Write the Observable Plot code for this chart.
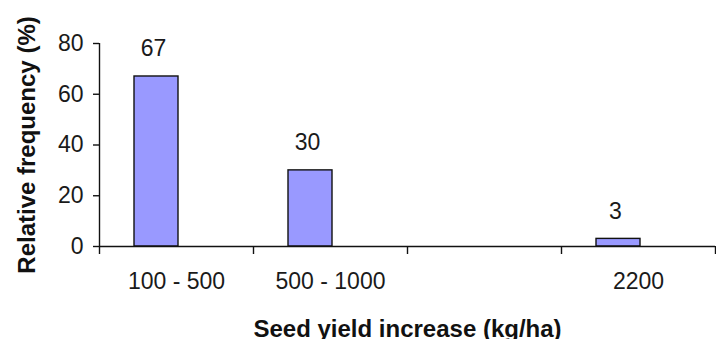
<!DOCTYPE html>
<html>
<head>
<meta charset="utf-8">
<script src="https://cdn.jsdelivr.net/npm/d3@7"></script>
<script src="https://cdn.jsdelivr.net/npm/@observablehq/plot@0.6"></script>
<style>
  html, body { margin: 0; padding: 0; background: #ffffff; }
  #chart { width: 716px; height: 339px; overflow: hidden; }
</style>
</head>
<body>
<div id="chart"></div>
<script>
const categories = ["100 - 500", "500 - 1000", "", "2200"];
const frequency = [67, 30, null, 3];
const yTicks = [0, 20, 40, 60, 80];
const xTitle = "Seed yield increase (kg/ha)";
const yTitle = "Relative frequency (%)";

const data = categories
  .map((c, i) => ({ category: c, i, value: frequency[i] }))
  .filter(d => d.value != null);

const boundaries = categories.map((c, i) => i).concat([categories.length]);
const centers = categories.map((c, i) => i + 0.5);

const font = "'Liberation Sans', Arial, Helvetica, sans-serif";

const chart = Plot.plot({
  width: 716,
  height: 339,
  marginLeft: 99,
  marginRight: 1,
  marginTop: 43,
  marginBottom: 93,
  x: { domain: [0, categories.length], axis: null, label: null },
  y: { domain: [0, 80], axis: null, label: null },
  style: { fontFamily: font, fontSize: "23px", color: "#1a1a1a", background: "white", overflow: "hidden" },
  marks: [
    Plot.rectY(data, {
      x1: "i",
      x2: d => d.i + 1,
      y: "value",
      insetLeft: 35,
      insetRight: 75,
      fill: "#9999ff",
      stroke: "#111",
      strokeWidth: 1.4
    }),
    Plot.ruleY([0], { stroke: "#111", strokeWidth: 1.4 }),
    Plot.ruleX([0], { y1: 0, y2: 80, stroke: "#111", strokeWidth: 1.4 }),
    Plot.axisY({
      ticks: yTicks,
      tickSize: 6,
      tickPadding: 10,
      label: null,
      fontSize: 23,
      stroke: "#111",
      strokeWidth: 1.4
    }),
    Plot.axisX({
      ticks: boundaries,
      tickSize: 8,
      tickFormat: () => "",
      label: null,
      stroke: "#111",
      strokeWidth: 1.4
    }),
    Plot.axisX({
      ticks: centers,
      tickSize: 0,
      tickPadding: 26,
      tickFormat: d => categories[Math.floor(d)],
      label: null,
      fontSize: 23
    }),
    Plot.text(data, {
      x: d => d.i + 0.5,
      y: "value",
      text: d => String(d.value),
      dx: -23,
      dy: -20,
      lineAnchor: "bottom",
      fontSize: 23,
      fill: "#1a1a1a"
    }),
    Plot.text([yTitle], {
      frameAnchor: "left",
      textAnchor: "middle",
      dx: -72,
      rotate: -90,
      fontWeight: "bold",
      fontSize: 24,
      fill: "#111"
    }),
    Plot.text([xTitle], {
      frameAnchor: "bottom",
      dy: 73,
      lineAnchor: "top",
      fontWeight: "bold",
      fontSize: 24,
      fill: "#111"
    })
  ]
});

document.getElementById("chart").appendChild(chart);
</script>
</body>
</html>
